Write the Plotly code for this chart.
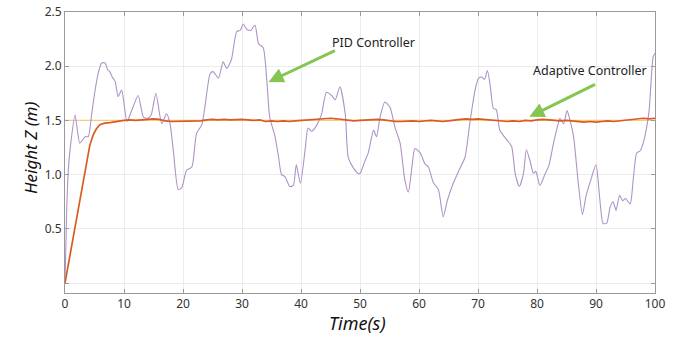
import plotly.graph_objects as go

# ---- data ----
pid_t = [0, 0.3, 0.6, 1.0, 1.7, 2.5, 3.0, 3.4, 3.95, 4.5, 5.1, 5.7, 6.2, 6.8, 7.2, 7.6, 8.0, 8.5,
         9.0, 9.6, 10.5, 11.3, 12.4, 13.3, 14.0, 14.6, 15.4, 16.4, 17.2, 17.8, 18.4, 19.2, 19.8,
         20.6, 21.5, 22.3, 23.2, 23.7, 24.6, 25.1, 26.0, 26.8, 27.4, 28.2, 29.1, 29.7, 30.2, 30.8,
         31.5, 32.2, 32.8, 33.6, 34.2, 34.7, 35.6, 36.2, 36.7, 37.3, 38.1, 38.7, 39.2, 39.9, 40.7,
         41.2, 41.8, 42.6, 43.5, 44.3, 45.2, 45.8, 46.6, 47.5, 48.0, 48.9, 49.7, 50.0, 50.8, 51.4,
         52.3, 52.8, 53.4, 54.2, 55.1, 55.9, 56.8, 57.6, 58.2, 58.8, 59.3, 60.2, 61.0, 61.6, 62.4,
         63.3, 64.1, 64.8, 65.8, 66.7, 67.8, 68.6, 69.5, 70.1, 70.6, 71.1, 71.6, 72.1, 72.6, 73.1,
         73.7, 74.9, 75.7, 76.3, 77.0, 77.7, 78.2, 78.8, 79.4, 79.8, 80.5, 81.4, 82.0, 82.8, 83.6,
         83.9, 84.5, 85.1, 85.6, 86.2, 87.0, 87.7, 88.3, 89.0, 90.0, 90.6, 91.2, 91.8, 92.4, 92.9,
         93.4, 94.0, 94.5, 95.0, 95.8, 96.3, 96.9, 97.5, 98.0, 98.5, 99.0, 99.7, 100]
pid_z = [0, 0.7, 1.07, 1.3, 1.55, 1.29, 1.32, 1.35, 1.35, 1.55, 1.78, 1.95, 2.03, 2.03, 1.97, 1.95, 1.9, 1.86,
         1.72, 1.78, 1.49, 1.59, 1.73, 1.53, 1.52, 1.55, 1.75, 1.47, 1.56, 1.47, 1.20, 0.86, 0.88,
         1.04, 1.07, 1.38, 1.46, 1.62, 1.93, 1.95, 1.89, 2.04, 1.98, 2.06, 2.32, 2.33, 2.39, 2.34,
         2.33, 2.38, 2.21, 2.17, 1.87, 1.53, 1.35, 1.16, 1.00, 0.98, 0.89, 0.90, 1.09, 0.92, 1.23,
         1.43, 1.40, 1.45, 1.56, 1.76, 1.73, 1.69, 1.81, 1.56, 1.16, 1.06, 1.01, 1.01, 1.12, 1.20,
         1.41, 1.35, 1.53, 1.67, 1.62, 1.44, 1.29, 0.95, 0.84, 1.07, 1.24, 1.20, 1.10, 1.07, 0.93,
         0.86, 0.61, 0.76, 0.92, 1.03, 1.16, 1.47, 1.78, 1.89, 1.90, 1.88, 1.96, 1.81, 1.61, 1.60,
         1.41, 1.32, 1.26, 1.01, 0.89, 1.01, 1.23, 1.13, 1.01, 1.03, 0.90, 1.01, 1.08, 1.29, 1.47,
         1.52, 1.47, 1.59, 1.50, 1.35, 0.92, 0.63, 0.80, 0.93, 1.09, 0.80, 0.55, 0.55, 0.70, 0.75,
         0.67, 0.81, 0.76, 0.78, 0.73, 0.95, 1.20, 1.22, 1.29, 1.41, 1.59, 2.09, 2.12]

ad_t = [0, 1, 2, 3, 3.7, 4.2, 4.8, 5.3, 5.9, 6.7, 7.6, 8.5, 9.3,
        10, 11, 12, 13, 14, 15, 16, 17, 18, 19, 20, 21, 22, 23, 24, 25, 26, 27, 28, 29, 30,
        31, 32, 33, 34, 35, 36, 37, 38, 39, 40, 41, 42, 43, 44, 45, 46, 47, 48, 49, 50,
        51, 52, 53, 54, 55, 56, 57, 58, 59, 60, 61, 62, 63, 64, 65, 66, 67, 68, 69, 70,
        71, 72, 73, 74, 75, 76, 77, 78, 79, 80, 81, 82, 83, 84, 85, 86, 87, 88, 89, 90,
        91, 92, 93, 94, 95, 96, 97, 98, 99, 100]
ad_z = [0, 0.31, 0.62, 0.93, 1.13, 1.27, 1.37, 1.42, 1.46, 1.475, 1.48, 1.49, 1.496,
        1.50, 1.505, 1.50, 1.505, 1.51, 1.515, 1.51, 1.495, 1.49, 1.49, 1.495, 1.49, 1.49, 1.495,
        1.505, 1.51, 1.505, 1.51, 1.505, 1.51, 1.51, 1.505, 1.50, 1.505, 1.49, 1.495, 1.49, 1.495,
        1.49, 1.495, 1.50, 1.50, 1.505, 1.51, 1.515, 1.52, 1.515, 1.51, 1.50, 1.495, 1.50, 1.505,
        1.51, 1.51, 1.505, 1.495, 1.49, 1.49, 1.495, 1.495, 1.49, 1.495, 1.50, 1.495, 1.49, 1.495,
        1.505, 1.51, 1.515, 1.51, 1.515, 1.51, 1.505, 1.495, 1.49, 1.49, 1.495, 1.49, 1.50, 1.495,
        1.505, 1.51, 1.505, 1.50, 1.495, 1.50, 1.495, 1.49, 1.485, 1.49, 1.485, 1.49, 1.495, 1.49,
        1.495, 1.50, 1.505, 1.51, 1.52, 1.515, 1.52]

ref_t = [0, 100]
ref_z = [1.5, 1.5]

y_ticks = [0, 0.5, 1.0, 1.5, 2.0, 2.5]
y_labels = ["", "0.5", "1.0", "1.5", "2.0", "2.5"]
x_ticks = [0, 10, 20, 30, 40, 50, 60, 70, 80, 90, 100]
x_labels = ["0", "10", "20", "30", "40", "50", "60", "70", "80", "90", "100"]

FONT = "Noto Sans"
W, H = 677, 337
ML, MR, MT, MB = 65, 22, 12, 44

fig = go.Figure()
fig.add_trace(go.Scatter(x=ref_t, y=ref_z, mode="lines",
                         line=dict(color="#eecf7e", width=1.2), showlegend=False))
fig.add_trace(go.Scatter(x=pid_t, y=pid_z, mode="lines", line_shape="spline",
                         line=dict(color="#ad93c8", width=1.1, smoothing=0.6), showlegend=False))
fig.add_trace(go.Scatter(x=ad_t, y=ad_z, mode="lines",
                         line=dict(color="#dc5a22", width=1.7), showlegend=False))

green = "#86c552"
fig.add_annotation(x=34.5, y=1.855, ax=46.0, ay=2.15, xref="x", yref="y", axref="x", ayref="y",
                   text="", showarrow=True, arrowhead=2, arrowsize=1, arrowwidth=3, arrowcolor=green)
fig.add_annotation(x=52.3, y=2.22, xref="x", yref="y", text="PID Controller", showarrow=False,
                   font=dict(family=FONT, size=12.5, color="#222"))
fig.add_annotation(x=78.7, y=1.533, ax=90.1, ay=1.84, xref="x", yref="y", axref="x", ayref="y",
                   text="", showarrow=True, arrowhead=2, arrowsize=1, arrowwidth=3, arrowcolor=green)
fig.add_annotation(x=88.9, y=1.96, xref="x", yref="y", text="Adaptive Controller", showarrow=False,
                   font=dict(family=FONT, size=12.5, color="#222"))

# axis titles placed as paper annotations (pixel-accurate)
pw, ph = W - ML - MR, H - MT - MB
fig.add_annotation(x=(357 - ML) / pw, y=(H - MB - 323) / ph, xref="paper", yref="paper",
                   xanchor="center", yanchor="middle",
                   text="<i>Time(s)</i>", showarrow=False,
                   font=dict(family=FONT, size=18, color="#111"))
fig.add_annotation(x=(30 - ML) / pw, y=(H - MB - 148) / ph, xref="paper", yref="paper",
                   xanchor="center", yanchor="middle",
                   text="<i>Height Z (m)</i>", showarrow=False, textangle=-90,
                   font=dict(family=FONT, size=17, color="#111"))

axis_common = dict(showline=True, linecolor="#9a9a9a", linewidth=1, mirror="allticks",
                   ticks="inside", ticklen=4, tickcolor="#9a9a9a",
                   showgrid=True, gridcolor="#ececec", gridwidth=1, zeroline=False,
                   automargin=False,
                   tickfont=dict(family=FONT, size=12, color="#333"))

fig.update_xaxes(range=[0, 100], tickvals=x_ticks, ticktext=x_labels, **axis_common)
fig.update_yaxes(range=[-0.092, 2.5], tickvals=y_ticks, ticktext=y_labels, **axis_common)

fig.update_layout(width=W, height=H, margin=dict(l=ML, r=MR, t=MT, b=MB, autoexpand=False),
                  plot_bgcolor="white", paper_bgcolor="white", showlegend=False)

fig.write_html("out.html", config={"displayModeBar": False},
               post_script="document.body.style.margin='0';document.body.style.overflow='hidden';")
